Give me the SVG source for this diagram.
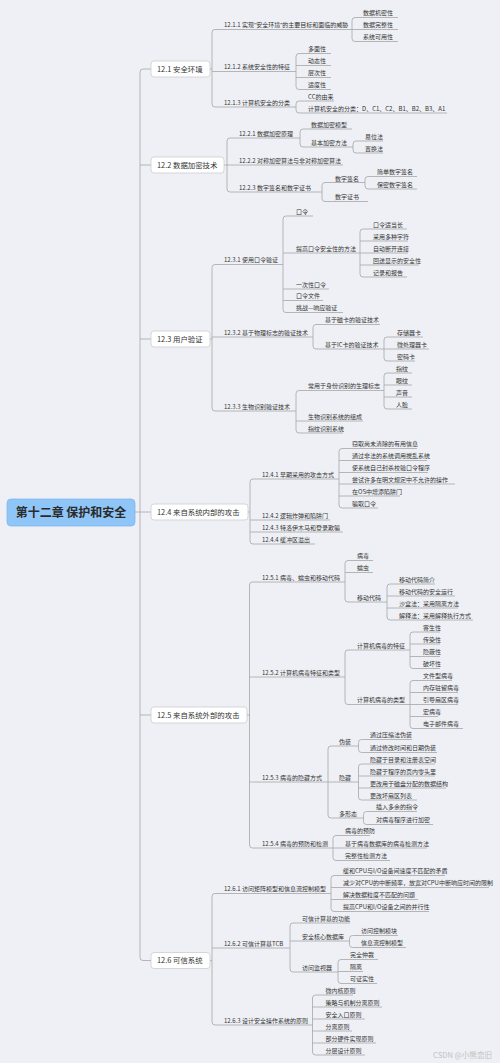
<svg xmlns="http://www.w3.org/2000/svg" width="500" height="1063" viewBox="0 0 500 1063">
<style>
.t{font-family:'Noto Sans CJK SC','Noto Sans',sans-serif;font-size:6px;fill:#333}
.h{font-family:'Noto Sans CJK SC','Noto Sans',sans-serif;font-size:7.4px;fill:#333}
.q{font-family:'Noto Sans','Noto Sans CJK SC',sans-serif}
.u,.c{stroke:#a6a6a6;stroke-width:0.8;fill:none}
.b{fill:#fff;stroke:#cdcdcd;stroke-width:0.8}
</style>
<rect width="500" height="1063" fill="#eef0f5"/>
<g id="connectors">
<path class="c" d="M151,69H143Q140,69 140,72V957.5Q140,960.5 143,960.5H151M140,165H151M140,339H151M135,512H151M140,715H151"/>
<path class="c" d="M210,69H212M215,29.5Q212,29.5 212,32.5V104Q212,107 215,107M212,71.5h3"/>
<path class="c" d="M355,17.5Q352,17.5 352,20.5V38.5Q352,41.5 355,41.5M352,29.5h3"/>
<path class="c" d="M299,53.5Q296,53.5 296,56.5V86.5Q296,89.5 299,89.5M296,65.5h3M296,77.5h3"/>
<path class="c" d="M299,101Q296,101 296,104V110Q296,113 299,113"/>
<path class="c" d="M224,165H227M230,138Q227,138 227,141V189Q227,192 230,192M227,165h3"/>
<path class="c" d="M303,129Q300,129 300,132V144Q300,147 303,147"/>
<path class="c" d="M356,141Q353,141 353,144V150Q353,153 356,153"/>
<path class="c" d="M325,182.5Q322,182.5 322,185.5V198.5Q322,201.5 325,201.5"/>
<path class="c" d="M368,176.5Q365,176.5 365,179.5V186Q365,189 368,189"/>
<path class="c" d="M210,339H212M215,264.5Q212,264.5 212,267.5V408Q212,411 215,411M212,337h3"/>
<path class="c" d="M286,216Q283,216 283,219V309.5Q283,312.5 286,312.5M283,253h3M283,289h3M283,300.5h3"/>
<path class="c" d="M363,229Q360,229 360,232V274Q360,277 363,277M360,241h3M360,253h3M360,265h3"/>
<path class="c" d="M316,324.5Q313,324.5 313,327.5V346Q313,349 316,349"/>
<path class="c" d="M387,337Q384,337 384,340V358Q384,361 387,361M384,349h3"/>
<path class="c" d="M299,390.5Q296,390.5 296,393.5V430Q296,433 299,433M296,421h3"/>
<path class="c" d="M387,373Q384,373 384,376V406Q384,409 387,409M384,385h3M384,397h3"/>
<path class="c" d="M248,512H250M253,479Q250,479 250,482V541Q250,544 253,544M250,520h3M250,532h3"/>
<path class="c" d="M342,448.5Q339,448.5 339,451.5V505Q339,508 342,508M339,460.5h3M339,472.5h3M339,484h3M339,496h3"/>
<path class="c" d="M247,715H249.5M252.5,582Q249.5,582 249.5,585V845Q249.5,848 252.5,848M249.5,677h3M249.5,782h3"/>
<path class="c" d="M348,560.5Q345,560.5 345,563.5V599Q345,602 348,602M345,572.5h3"/>
<path class="c" d="M390,584Q387,584 387,587V617Q387,620 390,620M387,596h3M387,608h3"/>
<path class="c" d="M348,650Q345,650 345,653V701.5Q345,704.5 348,704.5"/>
<path class="c" d="M413,632Q410,632 410,635V665.5Q410,668.5 413,668.5M410,644h3M410,656.5h3"/>
<path class="c" d="M413,680.5Q410,680.5 410,683.5V725.5Q410,728.5 413,728.5M410,692.5h3M410,704.5h3M410,716.5h3"/>
<path class="c" d="M331,746Q328,746 328,749V815Q328,818 331,818M328,782h3"/>
<path class="c" d="M361.5,739.5Q358.5,739.5 358.5,742.5V749.5Q358.5,752.5 361.5,752.5"/>
<path class="c" d="M361.5,764Q358.5,764 358.5,767V797Q358.5,800 361.5,800M358.5,776h3M358.5,788h3"/>
<path class="c" d="M366.5,811.5Q363.5,811.5 363.5,814.5V821.5Q363.5,824.5 366.5,824.5"/>
<path class="c" d="M336,835.5Q333,835.5 333,838.5V857.5Q333,860.5 336,860.5M333,848h3"/>
<path class="c" d="M210,960.5H212M215,893.5Q212,893.5 212,896.5V1022Q212,1025 215,1025M212,948h3"/>
<path class="c" d="M334,875.5Q331,875.5 331,878.5V908.5Q331,911.5 334,911.5M331,887.5h3M331,899.5h3"/>
<path class="c" d="M293,923Q290,923 290,926V969Q290,972 293,972M290,941h3"/>
<path class="c" d="M352.5,935.5Q349.5,935.5 349.5,938.5V944.5Q349.5,947.5 352.5,947.5"/>
<path class="c" d="M341,959.5Q338,959.5 338,962.5V980.5Q338,983.5 341,983.5M338,971.5h3"/>
<path class="c" d="M315.5,995Q312.5,995 312.5,998V1052Q312.5,1055 315.5,1055M312.5,1007h3M312.5,1019h3M312.5,1031h3M312.5,1043h3"/>
</g>
<g id="root"><rect x="7" y="499" width="128" height="27" rx="4" fill="#8fc6f7" stroke="#7db8ee" stroke-width="0.8"/><text x="71" y="516.5" text-anchor="middle" style="font-family:'Noto Sans CJK SC','Noto Sans',sans-serif;font-size:12px;font-weight:bold;fill:#2b2b2b">第十二章 保护和安全</text></g>
<g id="n12-1"><rect class="b" x="151" y="61" width="59" height="16" rx="3"/><text class="h" x="157" y="71.7">12.1 安全环境</text></g>
<g id="n12-2"><rect class="b" x="151" y="157" width="73" height="16" rx="3"/><text class="h" x="157" y="167.7">12.2 数据加密技术</text></g>
<g id="n12-3"><rect class="b" x="151" y="331" width="59" height="16" rx="3"/><text class="h" x="157" y="341.7">12.3 用户验证</text></g>
<g id="n12-4"><rect class="b" x="151" y="504" width="97" height="16" rx="3"/><text class="h" x="157" y="514.7">12.4 来自系统内部的攻击</text></g>
<g id="n12-5"><rect class="b" x="151" y="707" width="96" height="16" rx="3"/><text class="h" x="157" y="717.7">12.5 来自系统外部的攻击</text></g>
<g id="n12-6"><rect class="b" x="151" y="952.5" width="59" height="16" rx="3"/><text class="h" x="157" y="963.2">12.6 可信系统</text></g>

<g id="n12-1-1"><text class="t" x="224" y="27.2">12.1.1 实现<tspan class="q">“</tspan>安全环境<tspan class="q">”</tspan>的主要目标和面临的威胁</text><path class="u" d="M215,29.5H352"/></g>
<g id="n12-1-1a"><text class="t" x="363" y="15.2">数据机密性</text><path class="u" d="M355,17.5H398"/></g>
<g id="n12-1-1b"><text class="t" x="363" y="27.2">数据完整性</text><path class="u" d="M355,29.5H398"/></g>
<g id="n12-1-1c"><text class="t" x="363" y="39.2">系统可用性</text><path class="u" d="M355,41.5H398"/></g>
<g id="n12-1-2"><text class="t" x="224" y="69.2">12.1.2 系统安全性的特征</text><path class="u" d="M215,71.5H296"/></g>
<g id="n12-1-2a"><text class="t" x="308" y="51.2">多面性</text><path class="u" d="M299,53.5H331"/></g>
<g id="n12-1-2b"><text class="t" x="308" y="63.2">动态性</text><path class="u" d="M299,65.5H331"/></g>
<g id="n12-1-2c"><text class="t" x="308" y="75.2">层次性</text><path class="u" d="M299,77.5H331"/></g>
<g id="n12-1-2d"><text class="t" x="308" y="87.2">适度性</text><path class="u" d="M299,89.5H331"/></g>
<g id="n12-1-3"><text class="t" x="224" y="104.7">12.1.3 计算机安全的分类</text><path class="u" d="M215,107H296"/></g>
<g id="n12-1-3a"><text class="t" x="308" y="98.7">CC的由来</text><path class="u" d="M299,101H334"/></g>
<g id="n12-1-3b"><text class="t" x="308" y="110.7">计算机安全的分类：D、C1、C2、B1、B2、B3、A1</text><path class="u" d="M299,113H447"/></g>

<g id="n12-2-1"><text class="t" x="239" y="135.7">12.2.1 数据加密原理</text><path class="u" d="M230,138H300"/></g>
<g id="n12-2-1a"><text class="t" x="311" y="126.7">数据加密模型</text><path class="u" d="M303,129H352"/></g>
<g id="n12-2-1b"><text class="t" x="311" y="144.7">基本加密方法</text><path class="u" d="M303,147H353"/></g>
<g id="n12-2-1b1"><text class="t" x="365" y="138.7">易位法</text><path class="u" d="M356,141H383"/></g>
<g id="n12-2-1b2"><text class="t" x="365" y="150.7">置换法</text><path class="u" d="M356,153H383"/></g>
<g id="n12-2-2"><text class="t" x="239" y="162.7">12.2.2 对称加密算法与非对称加密算法</text><path class="u" d="M230,165H343"/></g>
<g id="n12-2-3"><text class="t" x="239" y="189.7">12.2.3 数字签名和数字证书</text><path class="u" d="M230,192H322"/></g>
<g id="n12-2-3a"><text class="t" x="335" y="180.7">数字签名</text><path class="u" d="M325,182.5H365"/></g>
<g id="n12-2-3a1"><text class="t" x="377" y="174.2">简单数字签名</text><path class="u" d="M368,176.5H417"/></g>
<g id="n12-2-3a2"><text class="t" x="377" y="186.7">保密数字签名</text><path class="u" d="M368,189H417"/></g>
<g id="n12-2-3b"><text class="t" x="335" y="199.2">数字证书</text><path class="u" d="M325,201.5H368"/></g>

<g id="n12-3-1"><text class="t" x="224" y="262.2">12.3.1 使用口令验证</text><path class="u" d="M215,264.5H283"/></g>
<g id="n12-3-1a"><text class="t" x="296" y="213.7">口令</text><path class="u" d="M286,216H313"/></g>
<g id="n12-3-1b"><text class="t" x="296" y="250.7">提高口令安全性的方法</text><path class="u" d="M286,253H360"/></g>
<g id="n12-3-1b1"><text class="t" x="373" y="226.7">口令适当长</text><path class="u" d="M363,229H407"/></g>
<g id="n12-3-1b2"><text class="t" x="373" y="238.7">采用多种字符</text><path class="u" d="M363,241H408"/></g>
<g id="n12-3-1b3"><text class="t" x="373" y="250.7">自动断开连接</text><path class="u" d="M363,253H408"/></g>
<g id="n12-3-1b4"><text class="t" x="373" y="262.7">回送显示的安全性</text><path class="u" d="M363,265H419"/></g>
<g id="n12-3-1b5"><text class="t" x="373" y="274.7">记录和报告</text><path class="u" d="M363,277H407"/></g>
<g id="n12-3-1c"><text class="t" x="296" y="286.7">一次性口令</text><path class="u" d="M286,289H329"/></g>
<g id="n12-3-1d"><text class="t" x="296" y="298.2">口令文件</text><path class="u" d="M286,300.5H323"/></g>
<g id="n12-3-1e"><text class="t" x="296" y="310.2">挑战—响应验证</text><path class="u" d="M286,312.5H343"/></g>
<g id="n12-3-2"><text class="t" x="224" y="334.7">12.3.2 基于物理标志的验证技术</text><path class="u" d="M215,337H313"/></g>
<g id="n12-3-2a"><text class="t" x="325" y="322.2">基于磁卡的验证技术</text><path class="u" d="M316,324.5H380"/></g>
<g id="n12-3-2b"><text class="t" x="325" y="346.7">基于IC卡的验证技术</text><path class="u" d="M316,349H384"/></g>
<g id="n12-3-2b1"><text class="t" x="397" y="334.7">存储器卡</text><path class="u" d="M387,337H423"/></g>
<g id="n12-3-2b2"><text class="t" x="397" y="346.7">微处理器卡</text><path class="u" d="M387,349H429"/></g>
<g id="n12-3-2b3"><text class="t" x="397" y="358.7">密码卡</text><path class="u" d="M387,361H415"/></g>
<g id="n12-3-3"><text class="t" x="224" y="408.7">12.3.3 生物识别验证技术</text><path class="u" d="M215,411H296"/></g>
<g id="n12-3-3a"><text class="t" x="308" y="388.2">常用于身份识别的生理标志</text><path class="u" d="M299,390.5H384"/></g>
<g id="n12-3-3a1"><text class="t" x="396" y="370.7">指纹</text><path class="u" d="M387,373H412"/></g>
<g id="n12-3-3a2"><text class="t" x="396" y="382.7">眼纹</text><path class="u" d="M387,385H412"/></g>
<g id="n12-3-3a3"><text class="t" x="396" y="394.7">声音</text><path class="u" d="M387,397H412"/></g>
<g id="n12-3-3a4"><text class="t" x="396" y="406.7">人脸</text><path class="u" d="M387,409H412"/></g>
<g id="n12-3-3b"><text class="t" x="308" y="418.7">生物识别系统的组成</text><path class="u" d="M299,421H363"/></g>
<g id="n12-3-3c"><text class="t" x="308" y="430.7">指纹识别系统</text><path class="u" d="M299,433H343"/></g>

<g id="n12-4-1"><text class="t" x="262" y="476.7">12.4.1 早期采用的攻击方式</text><path class="u" d="M253,479H339"/></g>
<g id="n12-4-1a"><text class="t" x="352" y="446.2">窃取尚未清除的有用信息</text><path class="u" d="M342,448.5H417"/></g>
<g id="n12-4-1b"><text class="t" x="352" y="458.2">通过非法的系统调用搅乱系统</text><path class="u" d="M342,460.5H427"/></g>
<g id="n12-4-1c"><text class="t" x="352" y="470.2">使系统自己封杀校验口令程序</text><path class="u" d="M342,472.5H428"/></g>
<g id="n12-4-1d"><text class="t" x="352" y="481.7">尝试许多在明文规定中不允许的操作</text><path class="u" d="M342,484H455"/></g>
<g id="n12-4-1e"><text class="t" x="352" y="493.7">在OS中增添陷阱门</text><path class="u" d="M342,496H400"/></g>
<g id="n12-4-1f"><text class="t" x="352" y="505.7">骗取口令</text><path class="u" d="M342,508H378"/></g>
<g id="n12-4-2"><text class="t" x="262" y="517.7">12.4.2 逻辑炸弹和陷阱门</text><path class="u" d="M253,520H330"/></g>
<g id="n12-4-3"><text class="t" x="262" y="529.7">12.4.3 特洛伊木马和登录欺骗</text><path class="u" d="M253,532H343"/></g>
<g id="n12-4-4"><text class="t" x="262" y="541.7">12.4.4 缓冲区溢出</text><path class="u" d="M253,544H315"/></g>

<g id="n12-5-1"><text class="t" x="262" y="579.7">12.5.1 病毒、蠕虫和移动代码</text><path class="u" d="M252.5,582H345"/></g>
<g id="n12-5-1a"><text class="t" x="357" y="558.2">病毒</text><path class="u" d="M348,560.5H373"/></g>
<g id="n12-5-1b"><text class="t" x="357" y="570.2">蠕虫</text><path class="u" d="M348,572.5H373"/></g>
<g id="n12-5-1c"><text class="t" x="357" y="599.7">移动代码</text><path class="u" d="M348,602H387"/></g>
<g id="n12-5-1c1"><text class="t" x="399" y="581.7">移动代码简介</text><path class="u" d="M390,584H435"/></g>
<g id="n12-5-1c2"><text class="t" x="399" y="593.7">移动代码的安全运行</text><path class="u" d="M390,596H455"/></g>
<g id="n12-5-1c3"><text class="t" x="399" y="605.7">沙盒法：采用隔离方法</text><path class="u" d="M390,608H458"/></g>
<g id="n12-5-1c4"><text class="t" x="399" y="617.7">解释法：采用解释执行方式</text><path class="u" d="M390,620H473"/></g>
<g id="n12-5-2"><text class="t" x="262" y="674.7">12.5.2 计算机病毒特征和类型</text><path class="u" d="M252.5,677H345"/></g>
<g id="n12-5-2a"><text class="t" x="357" y="647.7">计算机病毒的特征</text><path class="u" d="M348,650H410"/></g>
<g id="n12-5-2a1"><text class="t" x="423" y="629.7">寄生性</text><path class="u" d="M413,632H440"/></g>
<g id="n12-5-2a2"><text class="t" x="423" y="641.7">传染性</text><path class="u" d="M413,644H440"/></g>
<g id="n12-5-2a3"><text class="t" x="423" y="654.2">隐蔽性</text><path class="u" d="M413,656.5H440"/></g>
<g id="n12-5-2a4"><text class="t" x="423" y="666.2">破坏性</text><path class="u" d="M413,668.5H440"/></g>
<g id="n12-5-2b"><text class="t" x="357" y="702.2">计算机病毒的类型</text><path class="u" d="M348,704.5H410"/></g>
<g id="n12-5-2b1"><text class="t" x="423" y="678.2">文件型病毒</text><path class="u" d="M413,680.5H452"/></g>
<g id="n12-5-2b2"><text class="t" x="423" y="690.2">内存驻留病毒</text><path class="u" d="M413,692.5H458"/></g>
<g id="n12-5-2b3"><text class="t" x="423" y="702.2">引导扇区病毒</text><path class="u" d="M413,704.5H458"/></g>
<g id="n12-5-2b4"><text class="t" x="423" y="714.2">宏病毒</text><path class="u" d="M413,716.5H438"/></g>
<g id="n12-5-2b5"><text class="t" x="423" y="726.2">电子邮件病毒</text><path class="u" d="M413,728.5H463"/></g>
<g id="n12-5-3"><text class="t" x="262" y="779.7">12.5.3 病毒的隐藏方式</text><path class="u" d="M252.5,782H328"/></g>
<g id="n12-5-3a"><text class="t" x="339" y="743.7">伪装</text><path class="u" d="M331,746H358.5"/></g>
<g id="n12-5-3a1"><text class="t" x="370" y="737.2">通过压缩法伪装</text><path class="u" d="M361.5,739.5H412"/></g>
<g id="n12-5-3a2"><text class="t" x="370" y="750.2">通过修改时间和日期伪装</text><path class="u" d="M361.5,752.5H437"/></g>
<g id="n12-5-3b"><text class="t" x="339" y="779.7">隐藏</text><path class="u" d="M331,782H358.5"/></g>
<g id="n12-5-3b1"><text class="t" x="370" y="761.7">隐藏于目录和注册表空间</text><path class="u" d="M361.5,764H435"/></g>
<g id="n12-5-3b2"><text class="t" x="370" y="773.7">隐藏于程序的页内零头里</text><path class="u" d="M361.5,776H435"/></g>
<g id="n12-5-3b3"><text class="t" x="370" y="785.7">更改用于磁盘分配的数据结构</text><path class="u" d="M361.5,788H446"/></g>
<g id="n12-5-3b4"><text class="t" x="370" y="797.7">更改坏扇区列表</text><path class="u" d="M361.5,800H417"/></g>
<g id="n12-5-3c"><text class="t" x="339" y="815.7">多形态</text><path class="u" d="M331,818H363.5"/></g>
<g id="n12-5-3c1"><text class="t" x="376" y="809.2">插入多余的指令</text><path class="u" d="M366.5,811.5H417"/></g>
<g id="n12-5-3c2"><text class="t" x="376" y="822.2">对病毒程序进行加密</text><path class="u" d="M366.5,824.5H433"/></g>
<g id="n12-5-4"><text class="t" x="262" y="845.7">12.5.4 病毒的预防和检测</text><path class="u" d="M252.5,848H333"/></g>
<g id="n12-5-4a"><text class="t" x="345" y="833.2">病毒的预防</text><path class="u" d="M336,835.5H370"/></g>
<g id="n12-5-4b"><text class="t" x="345" y="845.7">基于病毒数据库的病毒检测方法</text><path class="u" d="M336,848H427"/></g>
<g id="n12-5-4c"><text class="t" x="345" y="858.2">完整性检测方法</text><path class="u" d="M336,860.5H390"/></g>

<g id="n12-6-1"><text class="t" x="224" y="891.2">12.6.1 访问矩阵模型和信息流控制模型</text><path class="u" d="M215,893.5H331"/></g>
<g id="n12-6-1a"><text class="t" x="343" y="873.2">缓和CPU与I/O设备间速度不匹配的矛盾</text><path class="u" d="M334,875.5H445"/></g>
<g id="n12-6-1b"><text class="t" x="343" y="885.2">减少对CPU的中断频率，放宽对CPU中断响应时间的限制</text><path class="u" d="M334,887.5H489"/></g>
<g id="n12-6-1c"><text class="t" x="343" y="897.2">解决数据粒度不匹配的问题</text><path class="u" d="M334,899.5H418"/></g>
<g id="n12-6-1d"><text class="t" x="343" y="909.2">提高CPU和I/O设备之间的并行性</text><path class="u" d="M334,911.5H429"/></g>
<g id="n12-6-2"><text class="t" x="224" y="945.7">12.6.2 可信计算基TCB</text><path class="u" d="M215,948H290"/></g>
<g id="n12-6-2a"><text class="t" x="302" y="920.7">可信计算基的功能</text><path class="u" d="M293,923H350"/></g>
<g id="n12-6-2b"><text class="t" x="302" y="938.7">安全核心数据库</text><path class="u" d="M293,941H349.5"/></g>
<g id="n12-6-2b1"><text class="t" x="361" y="933.2">访问控制模块</text><path class="u" d="M352.5,935.5H398"/></g>
<g id="n12-6-2b2"><text class="t" x="361" y="945.2">信息流控制模型</text><path class="u" d="M352.5,947.5H406"/></g>
<g id="n12-6-2c"><text class="t" x="302" y="969.7">访问监视器</text><path class="u" d="M293,972H338"/></g>
<g id="n12-6-2c1"><text class="t" x="350" y="957.2">完全仲裁</text><path class="u" d="M341,959.5H378"/></g>
<g id="n12-6-2c2"><text class="t" x="350" y="969.2">隔离</text><path class="u" d="M341,971.5H363"/></g>
<g id="n12-6-2c3"><text class="t" x="350" y="981.2">可证实性</text><path class="u" d="M341,983.5H377"/></g>
<g id="n12-6-3"><text class="t" x="224" y="1022.7">12.6.3 设计安全操作系统的原则</text><path class="u" d="M215,1025H312.5"/></g>
<g id="n12-6-3a"><text class="t" x="325.5" y="992.7">微内核原则</text><path class="u" d="M315.5,995H353"/></g>
<g id="n12-6-3b"><text class="t" x="325.5" y="1004.7">策略与机制分离原则</text><path class="u" d="M315.5,1007H382"/></g>
<g id="n12-6-3c"><text class="t" x="325.5" y="1016.7">安全入口原则</text><path class="u" d="M315.5,1019H365"/></g>
<g id="n12-6-3d"><text class="t" x="325.5" y="1028.7">分离原则</text><path class="u" d="M315.5,1031H352"/></g>
<g id="n12-6-3e"><text class="t" x="325.5" y="1040.7">部分硬件实现原则</text><path class="u" d="M315.5,1043H376"/></g>
<g id="n12-6-3f"><text class="t" x="325.5" y="1052.7">分层设计原则</text><path class="u" d="M315.5,1055H365"/></g>
<text x="433" y="1058" style="font-family:'Noto Sans CJK SC','Noto Sans',sans-serif;font-size:7.6px;fill:#c2c2c2">CSDN @小熊恋旧</text>
</svg>
